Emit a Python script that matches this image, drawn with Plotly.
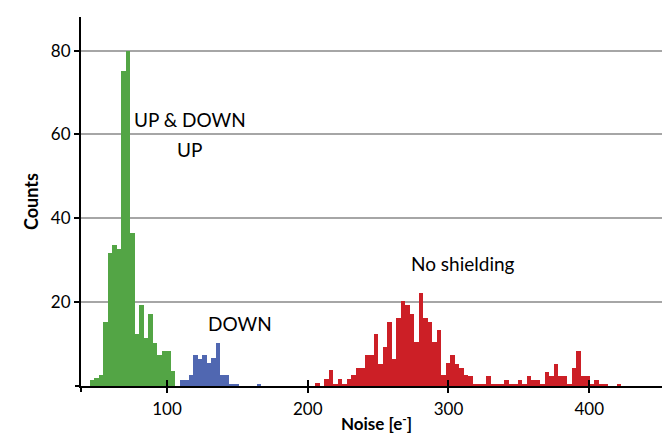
import plotly.graph_objects as go

# ---- data ----
BIN_WIDTH = 3.2

green_noise = [46.8, 50.0, 53.2, 56.4, 59.6, 62.8, 66.0, 69.2, 72.4, 75.6, 78.8,
               82.0, 85.2, 88.4, 91.6, 94.8, 98.0, 101.2, 104.4]
green_counts = [1.4, 2.0, 2.7, 15.2, 31.8, 33.6, 32.6, 75.2, 80.0, 36.6, 12.4,
                19.2, 11.4, 17.1, 10.2, 7.4, 8.4, 8.4, 3.5]

blue_noise = [110.8, 114.0, 117.2, 120.4, 123.6, 126.8, 130.0, 133.2, 136.4,
              139.6, 142.8, 146.0, 149.2, 165.2]
blue_counts = [1.4, 1.4, 2.7, 7.5, 6.4, 7.5, 5.6, 6.7, 10.3, 2.7, 2.7, 0.5, 0.5, 0.5]

red_noise = [206.8, 210.0, 213.2, 216.4, 219.6, 222.8, 226.0, 229.2, 232.4, 235.6,
             238.8, 242.0, 245.2, 248.4, 251.6, 254.8, 258.0, 261.2, 264.4, 267.6,
             270.8, 274.0, 277.2, 280.4, 283.6, 286.8, 290.0, 293.2, 296.4, 299.6,
             302.8, 306.0, 309.2, 312.4, 315.6, 318.8, 322.0, 325.2, 328.4, 331.6,
             334.8, 338.0, 341.2, 344.4, 347.6, 350.8, 354.0, 357.2, 360.4, 363.6,
             366.8, 370.0, 373.2, 376.4, 379.6, 382.8, 386.0, 389.2, 392.4, 395.6,
             398.8, 402.0, 405.2, 408.4, 411.6, 414.8, 418.0, 421.2]
red_counts = [0.6, 0.0, 1.6, 3.7, 0.5, 1.6, 0.5, 1.6, 2.6, 4.3,
              4.3, 7.3, 7.3, 12.3, 5.3, 9.3, 15.3, 6.5, 16.3, 20.3,
              19.3, 17.2, 10.5, 22.1, 16.3, 15.3, 10.5, 13.3, 2.6, 5.5,
              7.5, 5.3, 4.3, 2.6, 2.5, 0.4, 0.4, 0.4, 2.4, 0.4,
              0.4, 0.4, 1.4, 0.4, 0.4, 1.4, 0.4, 2.4, 1.4, 1.4,
              0.4, 3.3, 2.4, 5.3, 2.4, 2.4, 0.4, 4.2, 8.4, 2.4,
              2.4, 0.4, 1.4, 0.4, 0.4, 0.0, 0.0, 0.4]

X_MIN, X_MAX = 38.9, 458.8
Y_MIN, Y_MAX = 0, 88
x_label_vals = [100, 200, 300, 400]
x_all_tick_vals = [X_MIN, 100, 200, 300, 400]
y_label_vals = [20, 40, 60, 80]

GREEN = "#53A545"
BLUE = "#5067B1"
RED = "#CC1F26"
FONT = "Lato"

fig = go.Figure()
for xs, ys, col in [(green_noise, green_counts, GREEN),
                    (blue_noise, blue_counts, BLUE),
                    (red_noise, red_counts, RED)]:
    fig.add_bar(x=xs, y=ys, width=BIN_WIDTH, marker_color=col,
                marker_line_width=0, showlegend=False, hoverinfo="x+y")

# helper traces so the extra tick-only axes get drawn
fig.add_scatter(x=[], y=[], xaxis="x2", yaxis="y", showlegend=False)
fig.add_scatter(x=[], y=[], xaxis="x3", yaxis="y2", showlegend=False)

tick_common = dict(tickwidth=2, tickcolor="black", showgrid=False,
                   zeroline=False, automargin=False)

fig.update_layout(
    template="none",
    width=670, height=437,
    margin=dict(l=73, r=6, t=9, b=59),
    plot_bgcolor="white", paper_bgcolor="white",
    barmode="overlay", bargap=0,
    font=dict(family=FONT, size=17, color="black"),
    xaxis=dict(range=[X_MIN, X_MAX], tickmode="array", tickvals=x_label_vals,
               ticks="outside", ticklen=5, ticklabelstandoff=2,
               showline=True, linecolor="black", linewidth=2,
               title=dict(text="<b>Noise [e<sup>-</sup>]</b>", standoff=0,
                          font=dict(size=17)),
               **tick_common),
    xaxis2=dict(overlaying="x", matches="x", anchor="y", side="bottom",
                tickmode="array", tickvals=x_all_tick_vals, ticks="inside",
                ticklen=6, showticklabels=False, showline=False, **tick_common),
    xaxis3=dict(overlaying="x", matches="x", anchor="y", side="bottom",
                tickmode="array", tickvals=[X_MIN], ticks="outside",
                ticklen=5, showticklabels=False, showline=False, **tick_common),
    yaxis=dict(range=[Y_MIN, Y_MAX], tickmode="array", tickvals=y_label_vals,
               ticks="outside", ticklen=5, tickwidth=2, tickcolor="black",
               showline=True, linecolor="black", linewidth=2,
               showgrid=True, gridcolor="#A6A6A6", gridwidth=2,
               zeroline=False, automargin=False,
               title=dict(text="<b>Counts</b>", standoff=8, font=dict(size=18))),
    yaxis2=dict(overlaying="y", matches="y", anchor="x", side="left",
                tickmode="array", tickvals=[Y_MIN], ticks="outside", ticklen=5,
                showticklabels=False, showline=False, **tick_common),
)

ann_font = dict(family=FONT, size=19, color="black")
fig.add_annotation(x=116.2, y=63.5, text="UP &amp; DOWN", showarrow=False, font=ann_font)
fig.add_annotation(x=116.2, y=56.3, text="UP", showarrow=False, font=ann_font)
fig.add_annotation(x=151.7, y=15.0, text="DOWN", showarrow=False, font=ann_font)
fig.add_annotation(x=310.3, y=29.3, text="No shielding", showarrow=False, font=ann_font)

fig.write_html("out.html")
